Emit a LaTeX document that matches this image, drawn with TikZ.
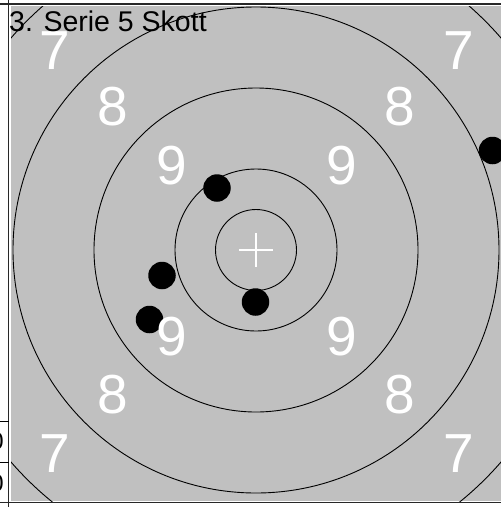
\documentclass[tikz,border=0pt]{standalone}
\usepackage{fontspec}
\setmainfont{Liberation Sans}
\usepackage{xcolor}
\definecolor{tgray}{RGB}{192, 192, 192}
\definecolor{frame}{RGB}{40, 40, 40}
\usetikzlibrary{positioning}

\begin{document}
\begin{tikzpicture}[x=1pt, y=-1pt,
  ring/.style={draw=black, line width=0.9pt},
  shot/.style={circle, fill=black, minimum size=27.5pt, inner sep=0pt},
  ringnum/.style={text=white, inner sep=0pt, font=\fontsize{55}{55}\selectfont},
  cellnum/.style={anchor=east, inner sep=0pt, font=\fontsize{24}{24}\selectfont}]
  \useasboundingbox (0,0) rectangle (501,507);
  % target face
  \fill[tgray] (11,6) rectangle (501,501);
  \coordinate (mid) at (256,250);
  \begin{scope}
    \clip (11,6) rectangle (501,501);
    \foreach \r in {40.5, 81, 162, 243, 324}
      \draw[ring] (mid) circle (\r);
  \end{scope}
  \draw[white, line width=1.6pt] ([xshift=-17pt]mid) -- ([xshift=17pt]mid);
  \draw[white, line width=1.6pt] ([yshift=-17pt]mid) -- ([yshift=17pt]mid);
  % shots
  \node[shot] (s1) at (217,188) {};
  \node[shot] (s2) at (162,275.5) {};
  \node[shot] (s3) at (149.5,319.5) {};
  \node[shot] (s4) at (255.5,302) {};
  \node[shot] (s5) at (492.5,150.5) {};
  % ring numbers
  \node[ringnum] (n9a) at (172,166) {9};
  \node[ringnum] (n9b) at (342,166) {9};
  \node[ringnum] (n9c) at (172,337) {9};
  \node[ringnum] (n9d) at (342,337) {9};
  \node[ringnum] (n8a) at (113,107) {8};
  \node[ringnum] (n8b) at (400,107) {8};
  \node[ringnum] (n8c) at (113,395) {8};
  \node[ringnum] (n8d) at (400,395) {8};
  \node[ringnum] (n7a) at (55,51) {7};
  \node[ringnum] (n7b) at (459,51) {7};
  \node[ringnum] (n7c) at (55,454) {7};
  \node[ringnum] (n7d) at (459,454) {7};
  \node[anchor=base west, inner sep=0pt, font=\fontsize{28.5}{28.5}\selectfont]
    (title) at (9,31) {3. Serie 5 Skott};
  % frame and table cells
  \draw[frame, line width=1.2pt] (0,4) -- (501,4);
  \draw[frame, line width=1.2pt] (0,502.5) -- (501,502.5);
  \draw[frame, line width=1pt] (8.5,0) -- (8.5,507);
  \draw[black, line width=0.8pt] (0,421) -- (8.5,421);
  \draw[black, line width=0.8pt] (0,462) -- (8.5,462);
  \node[cellnum] (c1) at (4,441) {0};
  \node[cellnum] (c2) at (4,483) {0};
\end{tikzpicture}
\end{document}
